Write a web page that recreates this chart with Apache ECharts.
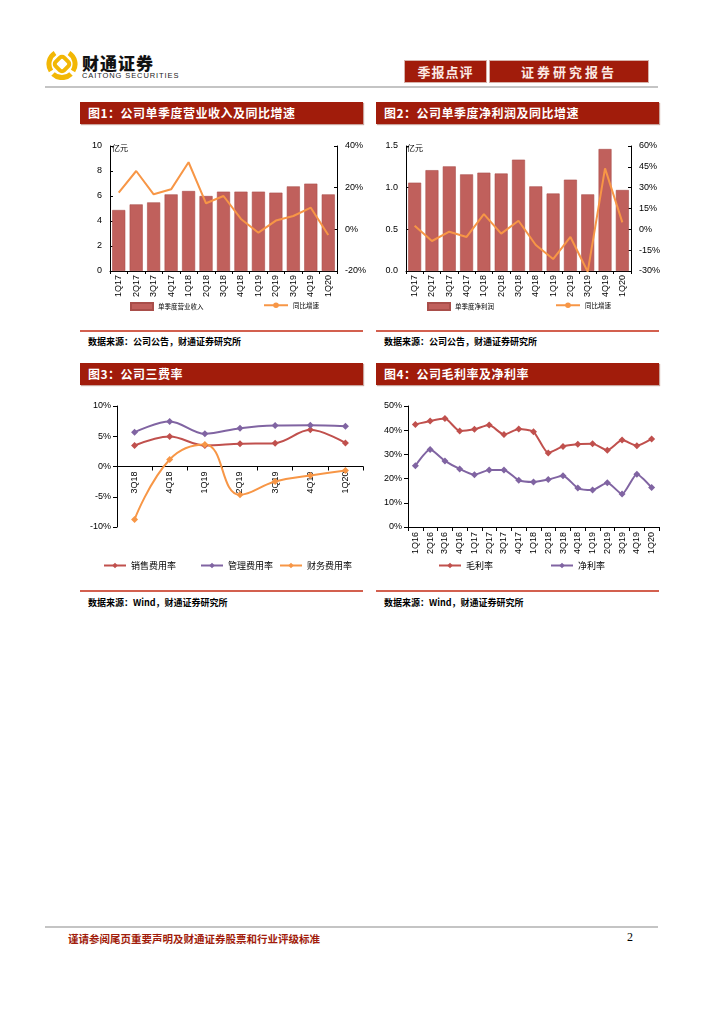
<!DOCTYPE html>
<html><head><meta charset="utf-8">
<script src="https://cdn.jsdelivr.net/npm/echarts@6/dist/echarts.min.js"></script>
<style>
body{margin:0;width:724px;height:1024px;background:#fff;position:relative;overflow:hidden;font-family:"Noto Sans CJK SC",sans-serif}
.abs{position:absolute}
.tbar{position:absolute;height:22px;background:#A11C0B;color:#fff;font-weight:bold;font-size:12px;line-height:22px;padding-left:8px;box-sizing:border-box;box-shadow:1px 1px 1px #c9a39c;letter-spacing:0.5px}
.hbox{position:absolute;top:61px;height:21px;background:#A11C0B;color:#fbe9e4;font-weight:bold;font-size:13px;line-height:21px;text-align:center;box-shadow:0 0 0 1px #d7b2aa;letter-spacing:1px}
.src{position:absolute;font-size:9px;font-weight:bold;color:#000}
.rline{position:absolute;height:2px;background:#D3604F}
.gline{position:absolute;left:45px;width:613px;height:2px;background:#c4c4c4}
.chart{position:absolute}
</style></head>
<body>
<svg class="abs" style="left:46px;top:48px" width="32" height="32" viewBox="0 0 32 32">
  <g fill="none" stroke="#F2B705" stroke-width="5">
    <path d="M9 5 A13 13 0 0 0 5 23"/>
    <path d="M23 5 A13 13 0 0 1 27 23"/>
    <path d="M7 26 A13 13 0 0 0 25 26"/>
  </g>
  <rect x="10" y="10" width="12" height="12" rx="3" transform="rotate(45 16 16)" fill="none" stroke="#F2B705" stroke-width="4"/>
</svg>
<div class="abs" style="left:82px;top:50px;font-size:17px;font-weight:900;letter-spacing:1px;color:#111">财通证券</div>
<div class="abs" style="left:82px;top:71px;font-size:7.5px;font-family:'Liberation Sans',Arial;color:#222;letter-spacing:0.9px">CAITONG SECURITIES</div>
<div class="hbox" style="left:405px;width:81px">季报点评</div>
<div class="hbox" style="left:490px;width:158px;letter-spacing:3px">证券研究报告</div>
<div class="gline" style="top:86px"></div>

<div class="tbar" style="left:80px;top:102px;width:283px">图1：公司单季度营业收入及同比增速</div>
<div class="tbar" style="left:376px;top:102px;width:283px">图2：公司单季度净利润及同比增速</div>
<div id="c1" class="chart" style="left:80px;top:135px;width:290px;height:190px"></div>
<div id="c2" class="chart" style="left:375px;top:135px;width:290px;height:190px"></div>
<div class="rline" style="left:80px;top:330px;width:283px"></div>
<div class="rline" style="left:376px;top:330px;width:283px"></div>
<div class="src" style="left:88px;top:335px">数据来源：公司公告，财通证券研究所</div>
<div class="src" style="left:384px;top:335px">数据来源：公司公告，财通证券研究所</div>

<div class="tbar" style="left:80px;top:363px;width:283px">图3：公司三费率</div>
<div class="tbar" style="left:376px;top:363px;width:283px">图4：公司毛利率及净利率</div>
<div id="c3" class="chart" style="left:80px;top:395px;width:290px;height:185px"></div>
<div id="c4" class="chart" style="left:375px;top:395px;width:290px;height:185px"></div>
<div class="rline" style="left:80px;top:590px;width:283px"></div>
<div class="rline" style="left:376px;top:590px;width:283px"></div>
<div class="src" style="left:88px;top:596px">数据来源：Wind，财通证券研究所</div>
<div class="src" style="left:384px;top:596px">数据来源：Wind，财通证券研究所</div>

<div class="gline" style="top:926px"></div>
<div class="abs" style="left:68px;top:931px;font-size:10.5px;font-weight:bold;color:#A11C0B">谨请参阅尾页重要声明及财通证券股票和行业评级标准</div>
<div class="abs" style="left:627px;top:930px;font-size:12px;font-family:'Liberation Serif',serif;color:#000">2</div>

<script>
// ---------- data ----------
const revQuarters = ['1Q17','2Q17','3Q17','4Q17','1Q18','2Q18','3Q18','4Q18','1Q19','2Q19','3Q19','4Q19','1Q20'];
const revenue = [4.88,5.33,5.49,6.13,6.40,6.00,6.35,6.35,6.35,6.27,6.77,6.99,6.13];
const revenueYoY = [17.6,28.0,16.8,19.2,32.2,12.5,16.0,5.0,-1.6,4.2,6.4,10.4,-2.7];
const profitQuarters = ['1Q17','2Q17','3Q17','4Q17','1Q18','2Q18','3Q18','4Q18','1Q19','2Q19','3Q19','4Q19','1Q20'];
const profit = [1.06,1.21,1.256,1.16,1.18,1.17,1.336,1.016,0.93,1.096,0.92,1.464,0.972];
const profitYoY = [2.6,-8.4,-1.7,-5.5,11.0,-3.1,6.2,-11.3,-21.4,-5.5,-30.5,43.9,5.0];
const feeQuarters = ['3Q18','4Q18','1Q19','2Q19','3Q19','4Q19','1Q20'];
const sellingRate = [3.47,4.96,3.47,3.75,3.86,6.06,3.90];
const adminRate = [5.67,7.44,5.40,6.34,6.78,6.83,6.67];
const financeRate = [-8.76,1.16,3.64,-4.68,-2.48,-1.49,-0.66];
const marginQuarters = ['1Q16','2Q16','3Q16','4Q16','1Q17','2Q17','3Q17','4Q17','1Q18','2Q18','3Q18','4Q18','1Q19','2Q19','3Q19','4Q19','1Q20'];
const grossMargin = [42.4,43.8,44.8,39.7,40.4,42.1,38.2,40.5,39.4,30.6,33.3,34.2,34.4,31.7,35.9,33.6,36.4];
const netMargin = [25.3,32.0,27.3,24.0,21.6,23.6,23.6,19.3,18.6,19.6,21.2,16.1,15.3,18.3,13.6,21.8,16.3];

// ---------- styles ----------
const LAT = 'Liberation Sans';
const CJK = 'Noto Sans CJK SC';
const RED = '#C0504D', PURPLE = '#8064A2', ORANGE = '#F79646', BAR = '#C0605C';
const blackLine = {show:true, lineStyle:{color:'#000', width:1}};
const tickLbl = {fontSize:9, color:'#000', fontFamily:LAT};

function barLineChart(id, cats, bars, line, barName, leftAxis, rightAxis, legendLefts, grid, nameLeft) {
  const ch = echarts.init(document.getElementById(id));
  ch.setOption({
    animation:false,
    grid:grid,
    legend:[
      {data:[barName], left:legendLefts[0], top:167, padding:0, itemWidth:22, itemHeight:7, icon:'rect',
       textStyle:{fontSize:6.5, fontFamily:CJK, color:'#000'}},
      {data:['同比增速'], left:legendLefts[1], top:167, padding:0, itemWidth:24, itemHeight:7,
       textStyle:{fontSize:6.5, fontFamily:CJK, color:'#000'}}
    ],
    xAxis:{type:'category', data:cats, axisLine:blackLine,
      axisTick:{show:true, length:3, lineStyle:{color:'#000'}},
      axisLabel:Object.assign({rotate:90, margin:4}, tickLbl)},
    yAxis:[
      Object.assign({type:'value', axisLine:blackLine, splitLine:{show:false},
        axisTick:{show:true, inside:true, length:3, lineStyle:{color:'#000'}}}, leftAxis),
      Object.assign({type:'value', axisLine:blackLine, splitLine:{show:false},
        axisTick:{show:true, inside:true, length:3, lineStyle:{color:'#000'}}}, rightAxis)
    ],
    series:[
      {type:'bar', name:barName, data:bars, barWidth:'75%',
       itemStyle:{color:BAR, borderColor:'#A94E4A', borderWidth:0.6}},
      {type:'line', name:'同比增速', yAxisIndex:1, data:line, symbol:'none', clip:true,
       lineStyle:{color:ORANGE, width:2}, itemStyle:{color:ORANGE}}
    ],
    graphic:[{type:'text', left:nameLeft, top:9, style:{text:'亿元', fontSize:8, fill:'#000', fontFamily:CJK}}]
  });
}

barLineChart('c1', revQuarters, revenue, revenueYoY, '单季度营业收入',
  {min:0, max:10, interval:2, axisLabel:Object.assign({margin:8}, tickLbl)},
  {min:-20, max:40, interval:20, axisLabel:Object.assign({margin:8, formatter:'{value}%'}, tickLbl)},
  [50, 183], {left:30, right:33, top:11, bottom:54}, 32);

barLineChart('c2', profitQuarters, profit, profitYoY, '单季度净利润',
  {min:0, max:1.5, interval:0.5, axisLabel:Object.assign({margin:8, formatter:v=>v.toFixed(1)}, tickLbl)},
  {min:-30, max:60, interval:15, axisLabel:Object.assign({margin:8, formatter:'{value}%'}, tickLbl)},
  [52, 180], {left:31, right:34, top:11, bottom:54}, 32);

// zeroBottom: distance from chart bottom to the y=0 line (axis drawn there via a helper grid)
function lineChart(id, cats, seriesList, yAxis, grid, legendLefts, labelMargin, zeroBottom) {
  const ch = echarts.init(document.getElementById(id));
  const grids = [grid];
  const xAxes = [{type:'category', data:cats, gridIndex:0,
      axisLine:{show:true, lineStyle:{color:'#000', width:1}},
      axisTick:{show:true, length:4, lineStyle:{color:'#000'}},
      axisLabel:Object.assign({rotate:90, margin:labelMargin}, tickLbl)}];
  const yAxes = [Object.assign({type:'value', gridIndex:0, axisLine:blackLine, splitLine:{show:false},
      axisTick:{show:true, length:4, lineStyle:{color:'#000'}},
      axisLabel:Object.assign({margin:6, formatter:'{value}%'}, tickLbl)}, yAxis)];
  if (zeroBottom != null) {
    grids.push({left:grid.left, right:grid.right, top:grid.top, bottom:zeroBottom});
    const helperX = JSON.parse(JSON.stringify(xAxes[0]));
    helperX.gridIndex = 1;
    xAxes[0].axisLine = {show:false}; xAxes[0].axisTick = {show:false}; xAxes[0].axisLabel = {show:false};
    xAxes.push(helperX);
    yAxes.push({type:'value', gridIndex:1, min:0, max:1, show:false});
  }
  ch.setOption({
    animation:false,
    grid:grids,
    legend:seriesList.map((s,i)=>({data:[s.name], left:legendLefts[i], top:166, padding:0,
      itemWidth:22, itemHeight:7, textStyle:{fontSize:9, fontFamily:CJK, color:'#000'}})),
    xAxis:xAxes,
    yAxis:yAxes,
    series:seriesList.map(s=>({type:'line', name:s.name, data:s.data, smooth:s.smooth,
      xAxisIndex:0, yAxisIndex:0,
      symbol:'diamond', symbolSize:7, showSymbol:true,
      lineStyle:{color:s.color, width:2}, itemStyle:{color:s.color}}))
  });
}

lineChart('c3', feeQuarters, [
  {name:'销售费用率', data:sellingRate, color:RED, smooth:0.35},
  {name:'管理费用率', data:adminRate, color:PURPLE, smooth:0.35},
  {name:'财务费用率', data:financeRate, color:ORANGE, smooth:0.45}
], {min:-10, max:10, interval:5}, {left:37, right:7, top:11, bottom:53}, [23, 120, 199], 5, 113.5);

lineChart('c4', marginQuarters, [
  {name:'毛利率', data:grossMargin, color:RED, smooth:0.2},
  {name:'净利率', data:netMargin, color:PURPLE, smooth:0.2}
], {min:0, max:50, interval:10}, {left:33, right:6, top:11, bottom:53}, [63, 175], 5, null);
</script>
</body></html>
